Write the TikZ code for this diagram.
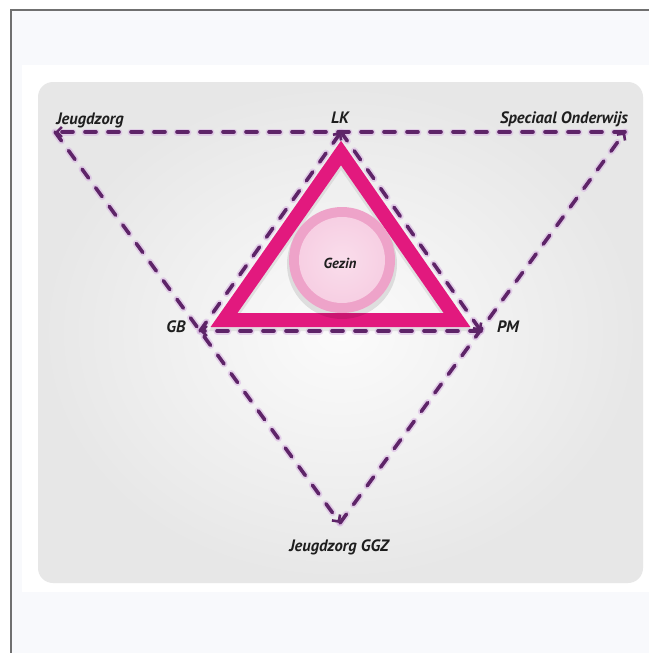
\documentclass[tikz,border=0pt]{standalone}
\usepackage{fontspec}
\setmainfont{PT Sans}
\usetikzlibrary{arrows.meta}
\definecolor{dpurple}{HTML}{5E2468}
\definecolor{glowc}{HTML}{D8B4E2}
\definecolor{magc}{HTML}{E2197E}
\definecolor{ringpink}{HTML}{EEA3C9}
\definecolor{corepink}{HTML}{F7CFE3}
\definecolor{bgblue}{HTML}{F8F9FC}
\definecolor{framec}{HTML}{707070}
\definecolor{txtc}{HTML}{1E1E1E}
\begin{document}
\begin{tikzpicture}[x=1pt,y=-1pt,
  lbl/.style={font=\bfseries\itshape\fontsize{16.5}{18}\selectfont, text=txtc, inner sep=0pt},
  gzlbl/.style={font=\bfseries\itshape\fontsize{14.5}{16}\selectfont, text=txtc, inner sep=0pt},
  glowline/.style={draw=glowc, line width=7pt, dash pattern=on 11pt off 12pt, line cap=round, opacity=0.55},
  dashline/.style={draw=dpurple, line width=3.6pt, dash pattern=on 11pt off 12pt, line cap=round,
    -{Straight Barb[length=5pt,width=10pt,line width=2.6pt]}}
]
\useasboundingbox (0,0) rectangle (649,653);
% background
\fill[white] (0,0) rectangle (649,653);
\fill[bgblue] (11,10) rectangle (649,653);
\draw[framec, line width=1.6pt] (11,653) -- (11,10) -- (649,10);
\fill[white] (22,65) rectangle (649,592);
\shade[rounded corners=15pt, inner color=gray!3, outer color=gray!19] (38,82) rectangle (643,583);

% corner coordinates
\coordinate (J) at (55,132);
\coordinate (S) at (625,132);
\coordinate (B) at (340,523);
\coordinate (L) at (341,132);
\coordinate (G) at (200,331);
\coordinate (P) at (481,331);

% magenta triangle
\coordinate (mA) at (341,153);
\coordinate (mB) at (224,320);
\coordinate (mC) at (457,320);
\draw[black, opacity=0.08, line width=16pt, line join=miter] ([yshift=-3pt]mA) -- ([yshift=-3pt]mB) -- ([yshift=-3pt]mC) -- cycle;
\draw[magc, line width=14pt, line join=miter] (mA) -- (mB) -- (mC) -- cycle;

% circle
\coordinate (cc) at (342,260);
\fill[black, opacity=0.10] ([yshift=-4pt]cc) circle (55);
\fill[ringpink] (cc) circle (53);
\shade[inner color=corepink!70, outer color=corepink] (cc) circle (43);
\node[gzlbl] (gz) at (340,263) {Gezin};

% glow
\draw[glowline] (B) -- (S);
\draw[glowline] (S) -- (J);
\draw[glowline] (J) -- (B);
\draw[glowline] (G) -- (L);
\draw[glowline] (L) -- (P);
\draw[glowline] (P) -- (G);
% dashed arrows
\draw[dashline] (B) -- (S);
\draw[dashline] (S) -- (J);
\draw[dashline] (J) -- (B);
\draw[dashline] (G) -- (L);
\draw[dashline] (L) -- (P);
\draw[dashline] (P) -- (G);

% labels
\node[lbl] (tJ) at (90,120) {Jeugdzorg};
\node[lbl] (tL) at (340,118) {LK};
\node[lbl] (tS) at (564,119) {Speciaal Onderwijs};
\node[lbl] (tG) at (176,327) {GB};
\node[lbl] (tP) at (508,327) {PM};
\node[lbl] (tB) at (339,547) {Jeugdzorg GGZ};
\end{tikzpicture}
\end{document}
